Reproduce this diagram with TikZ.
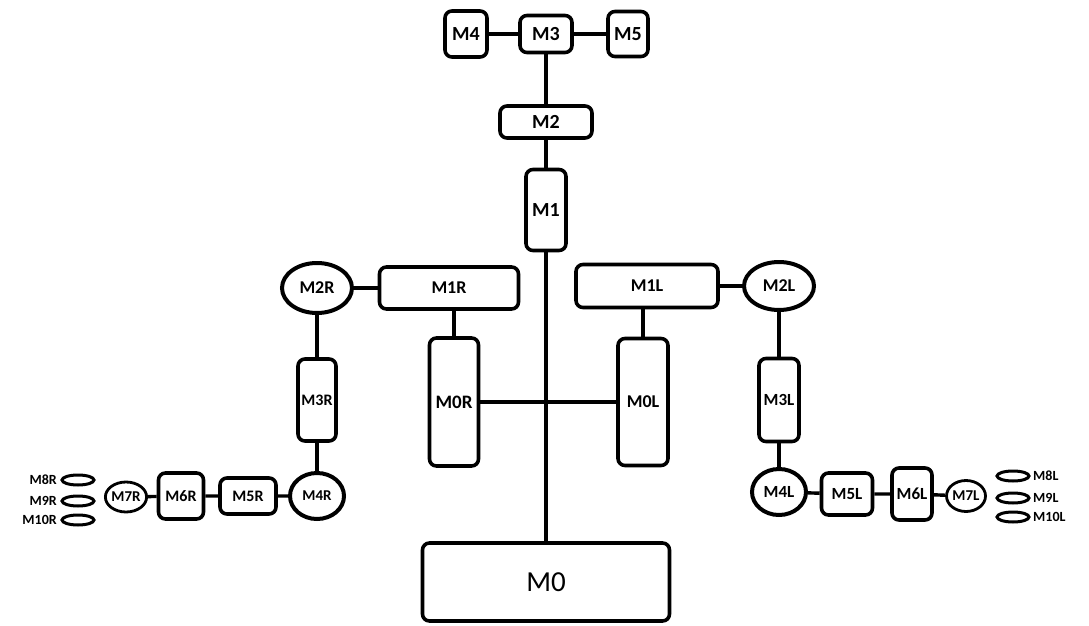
\documentclass[tikz,border=0pt]{standalone}
\usepackage{fontspec}
\setmainfont{Carlito}
\usetikzlibrary{shapes.geometric}
\tikzset{
  mbox/.style={draw, rectangle, rounded corners=7pt, line width=3.6pt, inner sep=0pt, font=\fontsize{18}{18}\selectfont\bfseries},
  mring/.style={draw, ellipse, line width=4pt, inner sep=0pt, font=\fontsize{16}{16}\selectfont\bfseries},
  mpill/.style={draw, ellipse, line width=3pt, minimum width=32pt, minimum height=10pt, inner sep=0pt},
  mtag/.style={inner sep=0pt, font=\fontsize{14}{14}\selectfont\bfseries},
  link/.style={line width=3.4pt}
}
\begin{document}
\begin{tikzpicture}[x=1pt, y=-1pt]
    \useasboundingbox (0,0) rectangle (1089,626);
    % spine
    \node[mbox, minimum width=42pt, minimum height=46pt, font=\fontsize{20}{20}\selectfont\bfseries] (M4) at (466,34) {M4};
    \node[mbox, minimum width=52pt, minimum height=37pt, font=\fontsize{20}{20}\selectfont\bfseries] (M3) at (546,34) {M3};
    \node[mbox, minimum width=40pt, minimum height=45pt, font=\fontsize{20}{20}\selectfont\bfseries] (M5) at (628,34) {M5};
    \node[mbox, minimum width=92pt, minimum height=32pt, font=\fontsize{20}{20}\selectfont\bfseries] (M2) at (546,122) {M2};
    \node[mbox, minimum width=40pt, minimum height=81pt, font=\fontsize{20}{20}\selectfont\bfseries] (M1) at (546,210) {M1};
    \node[mbox, minimum width=247pt, minimum height=78pt, font=\fontsize{29}{29}\selectfont] (M0) at (546,582) {M0};
    % right-hand side (drawn left)
    \node[mbox, minimum width=139pt, minimum height=42pt] (M1R) at (449,288) {M1R};
    \node[mring, minimum width=70pt, minimum height=50pt, font=\fontsize{18}{18}\selectfont\bfseries] (M2R) at (317,288) {M2R};
    \node[mbox, minimum width=49pt, minimum height=128pt, font=\fontsize{19}{19}\selectfont\bfseries] (M0R) at (454,402) {M0R};
    \node[mbox, minimum width=38pt, minimum height=82pt, font=\fontsize{16}{16}\selectfont\bfseries] (M3R) at (317,400) {M3R};
    \node[mring, minimum width=54pt, minimum height=46pt, font=\fontsize{15}{15}\selectfont\bfseries] (M4R) at (317,496) {M4R};
    \node[mbox, minimum width=56pt, minimum height=36pt, font=\fontsize{16}{16}\selectfont\bfseries] (M5R) at (248,496) {M5R};
    \node[mbox, minimum width=45pt, minimum height=46pt, font=\fontsize{16}{16}\selectfont\bfseries] (M6R) at (181,496) {M6R};
    \node[mring, line width=2.8pt, minimum width=40pt, minimum height=30pt, font=\fontsize{15}{15}\selectfont\bfseries] (M7R) at (126,497) {M7R};
    \node[mpill] (P8R) at (78,480) {};
    \node[mpill] (P9R) at (78,501) {};
    \node[mpill] (P10R) at (78,520) {};
    \node[mtag, anchor=east] (T8R) at (57,480) {M8R};
    \node[mtag, anchor=east] (T9R) at (57,501) {M9R};
    \node[mtag, anchor=east] (T10R) at (57,520) {M10R};
    % left-hand side (drawn right)
    \node[mbox, minimum width=142pt, minimum height=43pt] (M1L) at (647,286) {M1L};
    \node[mring, minimum width=70pt, minimum height=48pt, font=\fontsize{18}{18}\selectfont\bfseries] (M2L) at (779,286) {M2L};
    \node[mbox, minimum width=50pt, minimum height=127pt] (M0L) at (643,402) {M0L};
    \node[mbox, minimum width=40pt, minimum height=83pt, font=\fontsize{17}{17}\selectfont\bfseries] (M3L) at (779,400) {M3L};
    \node[mring, minimum width=54pt, minimum height=46pt, font=\fontsize{17}{17}\selectfont\bfseries] (M4L) at (779,492) {M4L};
    \node[mbox, minimum width=51pt, minimum height=42pt, font=\fontsize{17}{17}\selectfont\bfseries] (M5L) at (847,494) {M5L};
    \node[mbox, minimum width=40pt, minimum height=52pt, font=\fontsize{17}{17}\selectfont\bfseries] (M6L) at (912,494) {M6L};
    \node[mring, line width=2.8pt, minimum width=39pt, minimum height=31pt, font=\fontsize{15}{15}\selectfont\bfseries] (M7L) at (966,496) {M7L};
    \node[mpill] (P8L) at (1013,476) {};
    \node[mpill] (P9L) at (1013,498) {};
    \node[mpill] (P10L) at (1013,517) {};
    \node[mtag, anchor=west] (T8L) at (1033,476) {M8L};
    \node[mtag, anchor=west] (T9L) at (1033,498) {M9L};
    \node[mtag, anchor=west] (T10L) at (1033,517) {M10L};
    % links
    \draw[link] (M4) -- (M3) -- (M5);
    \draw[link] (M3) -- (M2);
    \draw[link] (M2) -- (M1);
    \draw[link] (M1) -- (M0);
    \draw[link] (M0R) -- (M0L);
    \draw[link] (M0R.north) -- (M0R.north |- M1R.south);
    \draw[link] (M0L.north) -- (M0L.north |- M1L.south);
    \draw[link] (M2R) -- (M1R);
    \draw[link] (M1L) -- (M2L);
    \draw[link] (M2R) -- (M3R) -- (M4R);
    \draw[link] (M2L) -- (M3L) -- (M4L);
    \draw[link] (M4R) -- (M5R) -- (M6R) -- (M7R);
    \draw[link] (M4L) -- (M5L) -- (M6L) -- (M7L);
\end{tikzpicture}
\end{document}
